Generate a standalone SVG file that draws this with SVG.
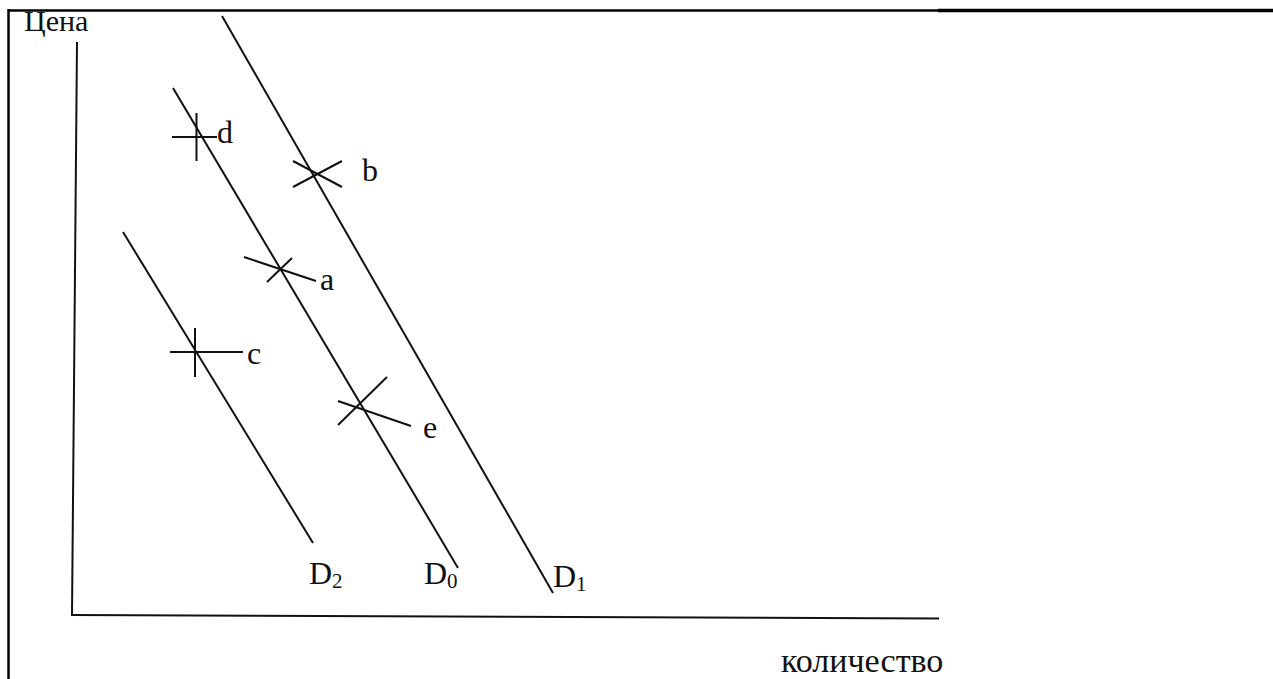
<svg xmlns="http://www.w3.org/2000/svg" width="1273" height="679" viewBox="0 0 1273 679">
<style>
.ln{stroke:#111;stroke-width:2;fill:none;stroke-linecap:butt}
.frame{stroke:#000;stroke-width:2.5;fill:none}
.lbl{font-family:"Liberation Serif","Times New Roman",serif;font-size:32px;fill:#111}
.sub{font-size:21px}
</style>
<rect width="1273" height="679" fill="#fff"/>
<g id="frame">
<line class="frame" x1="8" y1="10.5" x2="939" y2="10.5"/>
<line x1="938" y1="10.5" x2="1273" y2="10.5" stroke="#000" stroke-width="3.5"/>
<line class="frame" x1="8.5" y1="9" x2="8.5" y2="679"/>
</g>
<g id="axes">
<line class="ln" x1="77" y1="42" x2="72" y2="615"/>
<line class="ln" x1="71" y1="615" x2="939" y2="618.5" stroke-width="2.5"/>
<text class="lbl" x="24" y="31" style="font-size:30px">Цена</text>
<text class="lbl" x="781" y="672" style="font-size:34px">количество</text>
</g>
<g id="connectors">
<line id="D1" class="ln" x1="222" y1="16" x2="553" y2="593"/>
<line id="D0" class="ln" x1="173" y1="88" x2="458" y2="568"/>
<line id="D2" class="ln" x1="123" y1="232" x2="313" y2="543"/>
</g>
<g id="labelD2"><text class="lbl" x="309" y="584">D<tspan class="sub" dy="4">2</tspan></text></g>
<g id="labelD0"><text class="lbl" x="424" y="584">D<tspan class="sub" dy="4">0</tspan></text></g>
<g id="labelD1"><text class="lbl" x="553" y="587">D<tspan class="sub" dy="4">1</tspan></text></g>
<g id="point-d">
<line class="ln" x1="172" y1="137" x2="217" y2="137"/>
<line class="ln" x1="196.5" y1="113" x2="196.5" y2="161"/>
<text class="lbl" x="217" y="143">d</text>
</g>
<g id="point-b">
<line class="ln" x1="293" y1="161" x2="342" y2="187"/>
<line class="ln" x1="293" y1="187" x2="342" y2="161"/>
<text class="lbl" x="362" y="181">b</text>
</g>
<g id="point-a">
<line class="ln" x1="244" y1="257" x2="316" y2="281"/>
<line class="ln" x1="267" y1="282" x2="292" y2="258"/>
<text class="lbl" x="320" y="290">a</text>
</g>
<g id="point-c">
<line class="ln" x1="170" y1="352" x2="243" y2="352"/>
<line class="ln" x1="195" y1="328" x2="195" y2="377"/>
<text class="lbl" x="247" y="364">c</text>
</g>
<g id="point-e">
<line class="ln" x1="338" y1="401" x2="411" y2="426"/>
<line class="ln" x1="338" y1="425" x2="387" y2="377"/>
<text class="lbl" x="423" y="438">e</text>
</g>
</svg>
